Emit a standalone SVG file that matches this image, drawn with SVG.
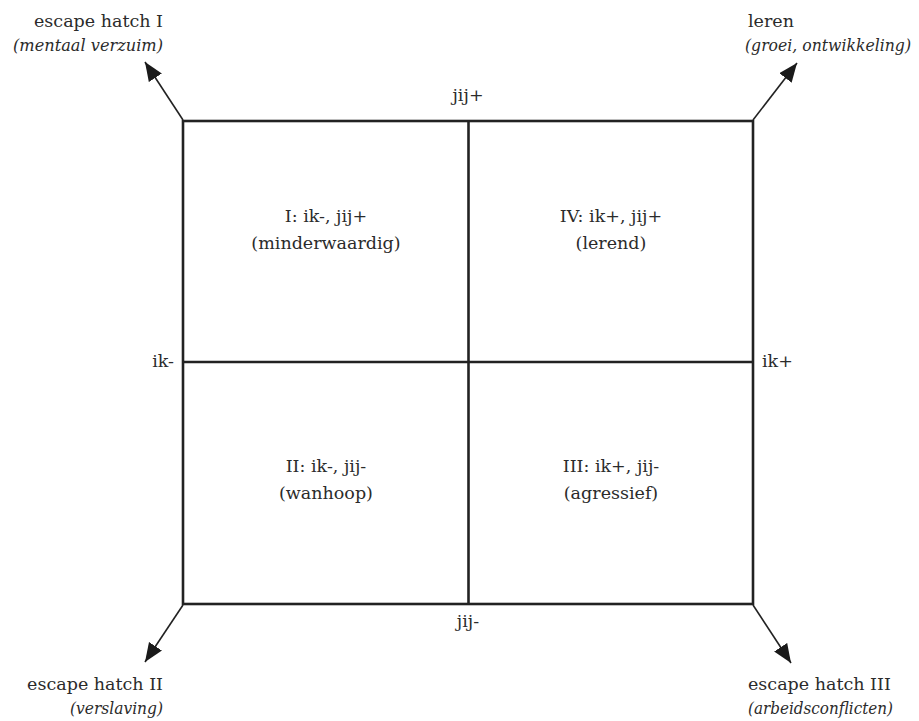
<svg xmlns="http://www.w3.org/2000/svg" width="919" height="721" viewBox="0 0 919 721">
<style>
.t{font-family:"DejaVu Serif","Liberation Serif",serif;font-size:17.5px;fill:#2b2b2b}
.i{font-style:italic;font-size:16.5px}
.m{text-anchor:middle}
.e{text-anchor:end}
.grid{fill:none;stroke:#222;stroke-width:2.6}
.arr{stroke:#222;stroke-width:1.6;fill:none;marker-end:url(#ah)}
</style>
<defs>
<marker id="ah" markerUnits="userSpaceOnUse" markerWidth="20" markerHeight="16" refX="17" refY="7" orient="auto" viewBox="0 0 18 14">
<path d="M0,0 L17,7 L0,14 Z" fill="#1a1a1a"/>
</marker>
</defs>
<rect width="919" height="721" fill="#fff"/>
<g id="grid">
<rect class="grid" x="183" y="121" width="570" height="483"/>
<line class="grid" x1="468.5" y1="121" x2="468.5" y2="604"/>
<line class="grid" x1="183" y1="362" x2="753" y2="362"/>
</g>
<g id="connectors">
<line class="arr" x1="183" y1="120" x2="145" y2="62"/>
<line class="arr" x1="753" y1="120" x2="797" y2="63"/>
<line class="arr" x1="183" y1="605" x2="145" y2="662"/>
<line class="arr" x1="753" y1="605" x2="791" y2="663"/>
</g>
<g id="q1"><text class="t m" x="326" y="222">I: ik-, jij+</text><text class="t m" x="326" y="249">(minderwaardig)</text></g>
<g id="q4"><text class="t m" x="611" y="222">IV: ik+, jij+</text><text class="t m" x="611" y="249">(lerend)</text></g>
<g id="q2"><text class="t m" x="326" y="472">II: ik-, jij-</text><text class="t m" x="326" y="499">(wanhoop)</text></g>
<g id="q3"><text class="t m" x="611" y="472">III: ik+, jij-</text><text class="t m" x="611" y="499">(agressief)</text></g>
<g id="axis-top"><text class="t m" x="468" y="101">jij+</text></g>
<g id="axis-bottom"><text class="t m" x="468" y="627">jij-</text></g>
<g id="axis-left"><text class="t e" x="174" y="367">ik-</text></g>
<g id="axis-right"><text class="t" x="762" y="367">ik+</text></g>
<g id="hatch1"><text class="t e" x="163" y="27">escape hatch I</text><text class="t i" x="13" y="51" textLength="150" lengthAdjust="spacingAndGlyphs">(mentaal verzuim)</text></g>
<g id="leren"><text class="t" x="748" y="27">leren</text><text class="t i" x="745" y="51" textLength="166" lengthAdjust="spacingAndGlyphs">(groei, ontwikkeling)</text></g>
<g id="hatch2"><text class="t e" x="163" y="690">escape hatch II</text><text class="t i" x="70" y="714" textLength="93" lengthAdjust="spacingAndGlyphs">(verslaving)</text></g>
<g id="hatch3"><text class="t" x="748" y="690">escape hatch III</text><text class="t i" x="748" y="714" textLength="145" lengthAdjust="spacingAndGlyphs">(arbeidsconflicten)</text></g>
</svg>
